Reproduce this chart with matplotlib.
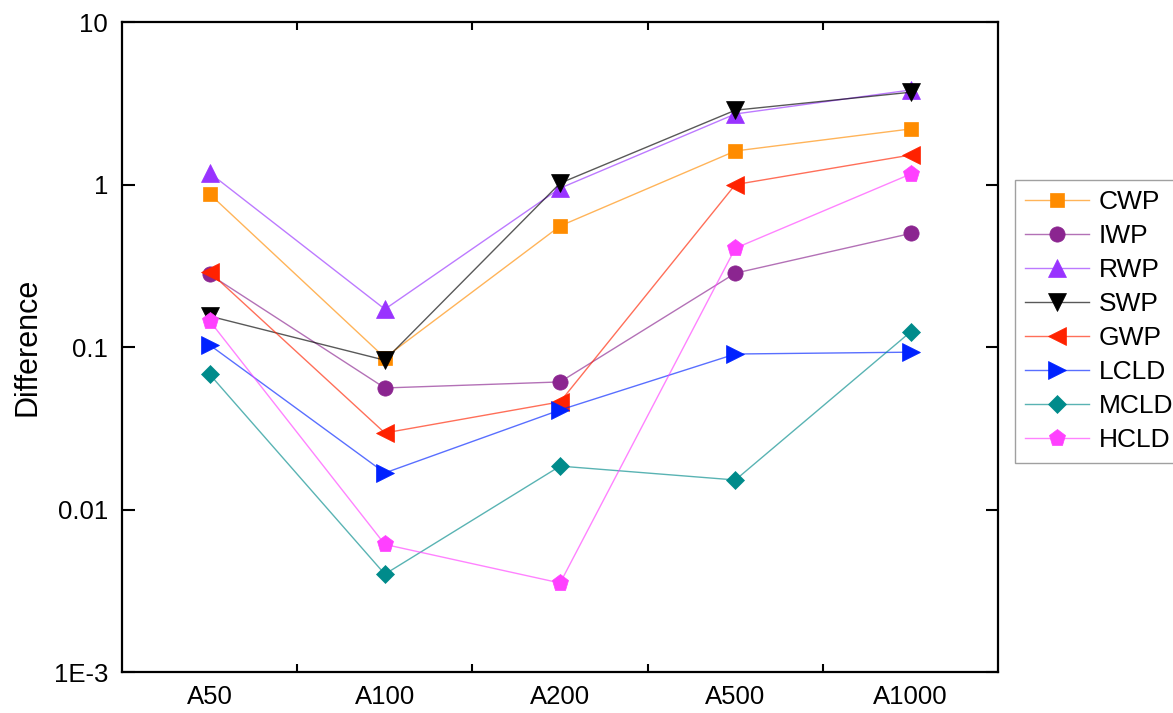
import numpy as np
import matplotlib.pyplot as plt
from matplotlib.colors import to_rgba
from matplotlib.ticker import FixedLocator, FixedFormatter, NullLocator

plt.rcParams['font.family'] = ['Liberation Sans', 'DejaVu Sans']

# categorias del eje x
categorias = ['A50', 'A100', 'A200', 'A500', 'A1000']

# diferencias por variable
cwp = [0.875, 0.086, 0.556, 1.61, 2.2]
iwp = [0.28, 0.056, 0.061, 0.285, 0.50]
rwp = [1.18, 0.171, 0.95, 2.72, 3.82]
swp = [0.155, 0.083, 1.02, 2.87, 3.7]
gwp = [0.29, 0.0296, 0.046, 1.0, 1.52]
lcld = [0.103, 0.0168, 0.041, 0.0906, 0.093]
mcld = [0.068, 0.0040, 0.0185, 0.0152, 0.124]
hcld = [0.145, 0.0061, 0.00353, 0.406, 1.16]

series = [
    ('CWP', cwp, '#FF8C00', 's', 10),
    ('IWP', iwp, '#8B2590', 'o', 11),
    ('RWP', rwp, '#9933FF', '^', 12.5),
    ('SWP', swp, '#000000', 'v', 12.5),
    ('GWP', gwp, '#FF2200', '<', 12.5),
    ('LCLD', lcld, '#0022FF', '>', 12.5),
    ('MCLD', mcld, '#008B8B', 'D', 9.5),
    ('HCLD', hcld, '#FF40FF', 'p', 12.5),
]

x = np.arange(len(categorias))

fig = plt.figure(figsize=(11.73, 7.13), dpi=100)
ax = fig.add_axes([0.104, 0.0575, 0.747, 0.9115])

for nombre, valores, col, mk, ms in series:
    ax.plot(x, valores, color=to_rgba(col, 0.65), linewidth=1.0,
            marker=mk, markersize=ms, markerfacecolor=col,
            markeredgecolor=col, markeredgewidth=0.5, label=nombre)

ax.set_yscale('log')
ax.set_ylim(1e-3, 10)
ax.set_xlim(-0.5, len(categorias) - 0.5)

ax.yaxis.set_major_locator(FixedLocator([1e-3, 1e-2, 1e-1, 1, 10]))
ax.yaxis.set_major_formatter(FixedFormatter(['1E-3', '0.01', '0.1', '1', '10']))
ax.yaxis.set_minor_locator(NullLocator())

ax.set_xticks(x)
ax.set_xticklabels(categorias)
ax.set_xticks(x[:-1] + 0.5, minor=True)

ax.tick_params(axis='x', which='major', length=0, pad=9, labelsize=18.5)
ax.tick_params(axis='x', which='minor', direction='in', length=6, width=1.5,
               top=True, bottom=True)
ax.tick_params(axis='y', which='major', direction='in', length=9, width=1.5,
               left=True, right=True, labelsize=18.5, pad=10)

for sp in ax.spines.values():
    sp.set_linewidth(1.6)

ax.set_ylabel('Difference', fontsize=22, labelpad=8)

leg = fig.legend(loc='upper left', bbox_to_anchor=(0.865, 0.748),
                 fontsize=19, frameon=True, fancybox=False, handlelength=2.4,
                 borderpad=0.4, labelspacing=0.38, handletextpad=0.4,
                 borderaxespad=0)
leg.get_frame().set_edgecolor('#888888')
leg.get_frame().set_linewidth(1.0)

fig.savefig('out.png', dpi=100)
